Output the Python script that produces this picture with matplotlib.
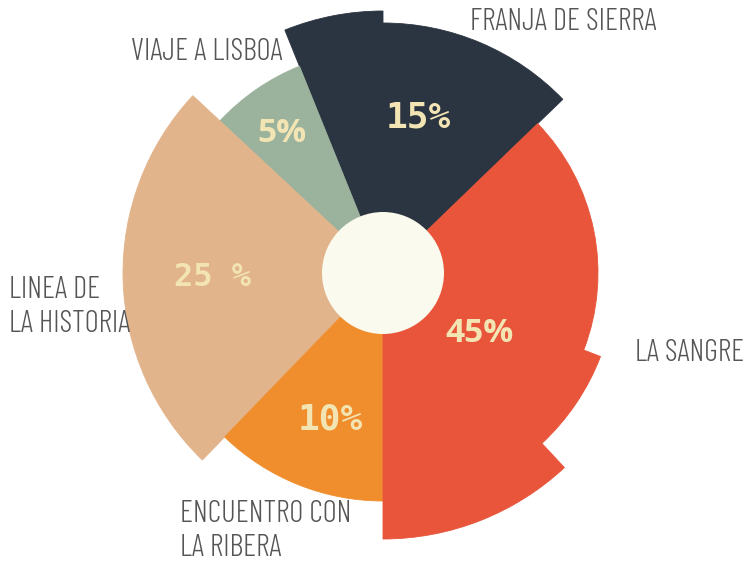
import matplotlib
matplotlib.use("Agg")
import matplotlib.pyplot as plt
from matplotlib.patches import Wedge, Circle

# chapters of the book and their share
chapters = ["FRANJA DE SIERRA", "VIAJE A LISBOA", "LINEA DE\nLA HISTORIA",
            "ENCUENTRO CON\nLA RIBERA", "LA SANGRE"]
shares = ["15%", "5%", "25 %", "10%", "45%"]

# each chapter is drawn as one or more wedge pieces (degrees, radius in px)
piece_chapter = [0, 0, 1, 2, 3, 4, 4, 4]
piece_start = [44, 90, 112, 137, 226, 270, 313, 339]
piece_end = [90, 112, 137, 226, 270, 313, 339, 404]
piece_radius = [250, 262, 223, 260, 228, 266, 233, 215]

colors = ["#2b3441", "#9bb29c", "#e2b48b", "#f08e2d", "#e8553a"]

W, H = 754, 562
cx, cy = 383, H - 273
hole = 61

fig = plt.figure(figsize=(W / 100, H / 100), dpi=100)
ax = fig.add_axes([0, 0, 1, 1])
ax.set_xlim(0, W)
ax.set_ylim(0, H)
ax.set_aspect("equal")
ax.axis("off")

for c, t0, t1, r in zip(piece_chapter, piece_start, piece_end, piece_radius):
    ax.add_patch(Wedge((cx, cy), r, t0, t1, facecolor=colors[c],
                       edgecolor=colors[c], linewidth=0.6))

ax.add_patch(Circle((cx, cy), hole, facecolor="#fbfaee", edgecolor="none"))

# share labels inside the wedges
share_pos = [(418, 118), (282, 133), (212, 277), (330, 419), (480, 334)]
share_font = ["DejaVu Sans Mono", "Open Sans", "DejaVu Sans Mono",
              "DejaVu Sans Mono", "Open Sans"]
share_size = [26, 24, 23, 26, 24]
for s, (x, y), fam, fs in zip(shares, share_pos, share_font, share_size):
    ax.text(x, H - y, s, ha="center", va="center", fontsize=fs,
            fontweight="bold", color="#f3e4b4", family=fam)

# chapter names around the chart
name_pos = [(470, 22), (131, 52), (9, 307), (180, 531), (635, 353)]
for name, (x, y) in zip(chapters, name_pos):
    ax.text(x, H - y, name, ha="left", va="center", fontsize=22,
            fontweight=300, color="#555555", linespacing=1.3,
            family=["Barlow Condensed", "DejaVu Sans"])

fig.savefig("out.png", dpi=100)
